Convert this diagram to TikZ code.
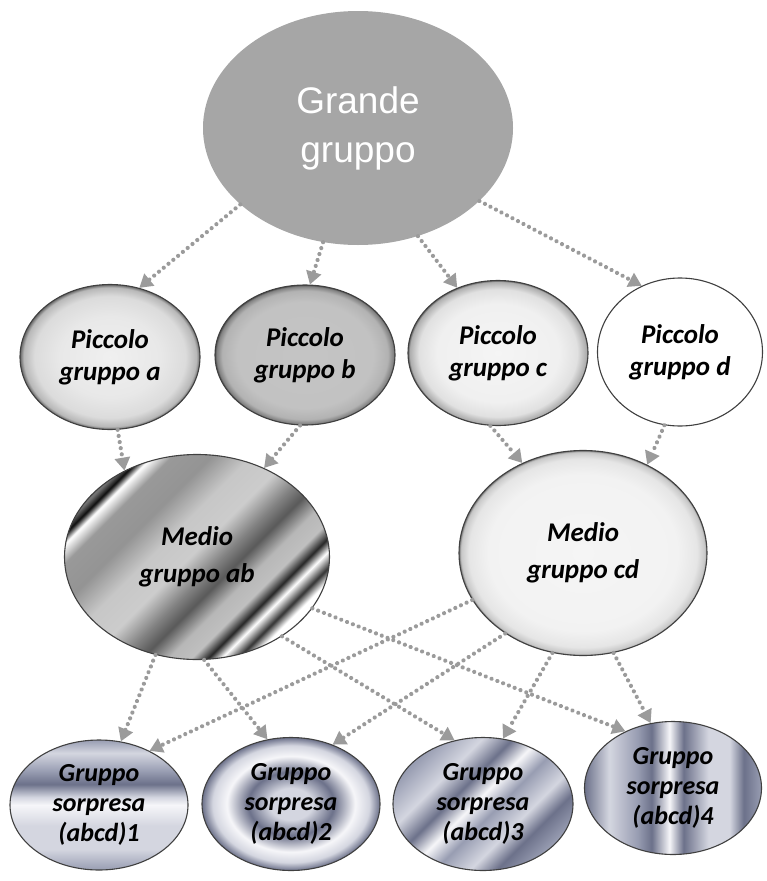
\documentclass[tikz,border=0pt]{standalone}
\usepackage{fontspec}
\setmainfont{Carlito}
\newfontfamily\grfont{Liberation Sans}
\usetikzlibrary{shapes.geometric,arrows.meta}
\definecolor{arrgray}{RGB}{155,155,155}
\definecolor{grgray}{RGB}{166,166,166}
\definecolor{sd}{RGB}{108,113,138}
\definecolor{sm}{RGB}{152,157,178}
\definecolor{sl}{RGB}{212,214,224}
\definecolor{sw}{RGB}{246,246,249}
\pgfdeclareradialshading{pa}{\pgfpoint{0bp}{0bp}}{color(0bp)=(black!6); color(14bp)=(black!9); color(21bp)=(black!14); color(24bp)=(black!28); color(25bp)=(black!60); color(50bp)=(black!60)}
\pgfdeclareradialshading{pb}{\pgfpoint{0bp}{0bp}}{color(0bp)=(black!23); color(19bp)=(black!24); color(23bp)=(black!30); color(24.6bp)=(black!50); color(25bp)=(black!70); color(50bp)=(black!70)}
\pgfdeclareradialshading{pc}{\pgfpoint{0bp}{0bp}}{color(0bp)=(black!4); color(17bp)=(black!6); color(22bp)=(black!12); color(24.5bp)=(black!32); color(25bp)=(black!60); color(50bp)=(black!60)}
\pgfdeclareradialshading{pcd}{\pgfpoint{0bp}{0bp}}{color(0bp)=(black!4); color(19bp)=(black!5); color(23bp)=(black!10); color(24.6bp)=(black!22); color(25bp)=(black!55); color(50bp)=(black!55)}
\pgfdeclarehorizontalshading{mab}{100bp}{color(0bp)=(black!55); color(25bp)=(black!55); color(26.5bp)=(black!95); color(28bp)=(white); color(31bp)=(black!40); color(37bp)=(black!42); color(43bp)=(black!22); color(49bp)=(black!20); color(54bp)=(black!50); color(57bp)=(black!65); color(61bp)=(black!28); color(64.5bp)=(black!25); color(67bp)=(black!85); color(69bp)=(white); color(71.5bp)=(black!80); color(73.5bp)=(white); color(100bp)=(white)}
\pgfdeclareverticalshading{sa}{100bp}{color(0bp)=(sm); color(25bp)=(sm); color(33bp)=(sl); color(42bp)=(sl); color(50bp)=(sw); color(53bp)=(sl); color(58bp)=(sd); color(63bp)=(sm); color(70bp)=(sl); color(75bp)=(sm); color(100bp)=(sm)}
\pgfdeclareradialshading{sbr}{\pgfpoint{0bp}{0bp}}{color(0bp)=(sl); color(6bp)=(sl); color(12bp)=(sd); color(18bp)=(sw); color(22bp)=(sl); color(25bp)=(sd); color(50bp)=(sd)}
\pgfdeclarehorizontalshading{sc}{100bp}{color(0bp)=(sm); color(25bp)=(sm); color(35bp)=(sl); color(42bp)=(sd); color(48bp)=(sw); color(54bp)=(sm); color(62bp)=(sl); color(68bp)=(sd); color(75bp)=(sm); color(100bp)=(sm)}
\pgfdeclarehorizontalshading{sdd}{100bp}{color(0bp)=(sd); color(25bp)=(sd); color(32bp)=(sl); color(40bp)=(sm); color(44bp)=(sd); color(49bp)=(sw); color(53bp)=(sd); color(60bp)=(sl); color(66bp)=(sl); color(70bp)=(sd); color(75bp)=(sm); color(100bp)=(sm)}
\begin{document}
\begin{tikzpicture}[x=1pt,y=-1pt,
  oval/.style={ellipse, inner sep=0pt, align=center, draw=black!75, line width=1.1pt},
  ptext/.style={font=\bfseries\itshape\fontsize{27}{32}\selectfont},
  mtext/.style={font=\bfseries\itshape\fontsize{27}{37}\selectfont},
  stext/.style={font=\bfseries\itshape\fontsize{26}{30}\selectfont},
  conn/.style={draw=arrgray, line width=4.2pt, dash pattern=on 0.01pt off 6.2pt, line cap=round, -{Triangle[width=15pt,length=13pt]}}]
\useasboundingbox (0,0) rectangle (767,881);
\node[ellipse, inner sep=0pt, fill=grgray, minimum width=310pt, minimum height=234pt, align=center,
  font=\grfont\fontsize{37}{49}\selectfont, text=white] (G) at (358,128) {Grande\\gruppo};
\node[oval, ptext, shading=pa, minimum width=180pt, minimum height=145pt] (a) at (110,357) {Piccolo\\gruppo a};
\node[oval, ptext, shading=pb, minimum width=180pt, minimum height=140pt] (b) at (305,355) {Piccolo\\gruppo b};
\node[oval, ptext, shading=pc, minimum width=180pt, minimum height=145pt] (c) at (498,353) {Piccolo\\gruppo c};
\node[oval, ptext, fill=white, minimum width=165pt, minimum height=148pt] (d) at (680,352) {Piccolo\\gruppo d};
\node[oval, mtext, shading=mab, shading angle=-45, minimum width=265pt, minimum height=205pt] (ab) at (197,557) {Medio\\gruppo ab};
\node[oval, mtext, shading=pcd, minimum width=248pt, minimum height=205pt] (cd) at (583,553) {Medio\\gruppo cd};
\node[oval, stext, shading=sa, minimum width=178pt, minimum height=130pt] (s1) at (99,805) {Gruppo\\sorpresa\\(abcd)1};
\node[oval, stext, shading=sbr, minimum width=178pt, minimum height=133pt] (s2) at (291,804) {Gruppo\\sorpresa\\(abcd)2};
\node[oval, stext, shading=sc, shading angle=-45, minimum width=180pt, minimum height=133pt] (s3) at (483,804) {Gruppo\\sorpresa\\(abcd)3};
\node[oval, stext, shading=sdd, minimum width=177pt, minimum height=133pt] (s4) at (673,788) {Gruppo\\sorpresa\\(abcd)4};
\draw[conn] (G.213) -- (a.67);
\draw[conn] (G.253) -- (b.86);
\draw[conn] (G.299) -- (c.122);
\draw[conn] (G.329) -- (d.120);
\draw[conn] (a.276) -- (ab.130);
\draw[conn] (b.266) -- (ab.53);
\draw[conn] (c.264) -- (cd.124);
\draw[conn] (d.258) -- (cd.54);
\draw[conn] (ab.247) -- (s1.71);
\draw[conn] (ab.274) -- (s2.110);
\draw[conn] (ab.317) -- (s3.114);
\draw[conn] (ab.336) -- (s4.130);
\draw[conn] (cd.203) -- (s1.47);
\draw[conn] (cd.226) -- (s2.55);
\draw[conn] (cd.253) -- (s3.73);
\draw[conn] (cd.287) -- (s4.109);
\end{tikzpicture}
\end{document}
